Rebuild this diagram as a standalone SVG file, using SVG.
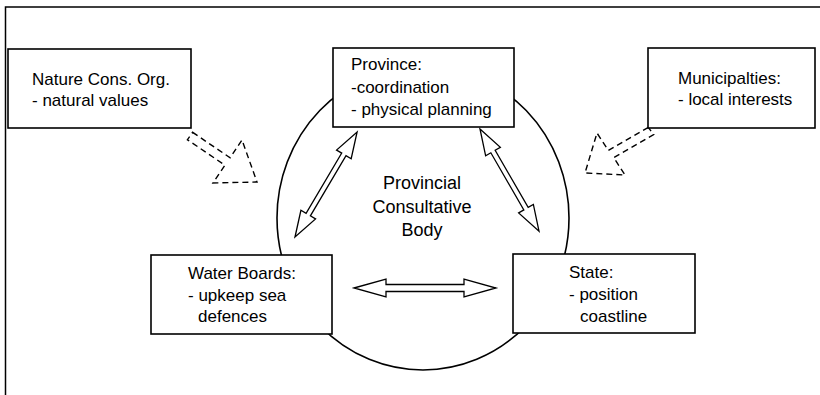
<svg xmlns="http://www.w3.org/2000/svg" width="820" height="395" viewBox="0 0 820 395">
<style>
.box{fill:#fff;stroke:#000;stroke-width:1.6}
.t{font-family:"Liberation Sans",Arial,sans-serif;font-size:17px;fill:#000}
.c{font-family:"Liberation Sans",Arial,sans-serif;font-size:18px;fill:#000;text-anchor:middle}
.dbl{fill:#fff;stroke:#000;stroke-width:1.3;stroke-linejoin:miter}
.dash{fill:none;stroke:#000;stroke-width:1.4;stroke-dasharray:6 4}
</style>
<rect width="820" height="395" fill="#fff"/>
<g id="frame"><polyline points="5.5,395 5.5,7 820,7" fill="none" stroke="#000" stroke-width="1.5"/></g>
<g id="body">
<ellipse cx="423" cy="218" rx="146" ry="152" fill="none" stroke="#000" stroke-width="1.6"/>
<text class="c" x="422" y="189">Provincial</text>
<text class="c" x="422" y="213">Consultative</text>
<text class="c" x="422" y="236">Body</text>
</g>
<g id="connectors">
<path class="dbl" transform="translate(295,237) rotate(-59.4)" d="M0,0 L26,-8.5 L26,-2.5 L96,-2.5 L96,-8.5 L122,0 L96,8.5 L96,2.5 L26,2.5 L26,8.5 Z"/>
<path class="dbl" transform="translate(480,129) rotate(60)" d="M0,0 L26,-8.5 L26,-2.5 L92,-2.5 L92,-8.5 L118,0 L92,8.5 L92,2.5 L26,2.5 L26,8.5 Z"/>
<path class="dbl" transform="translate(354,288)" d="M0,0 L32,-9 L32,-3.5 L110,-3.5 L110,-9 L142,0 L110,9 L110,3.5 L32,3.5 L32,9 Z"/>
<path class="dash" d="M192.6,132.3 L230.1,157.8 L242,140 L257,182 L213,183 L224.9,165.2 L187.4,139.7 Z"/>
<path class="dash" d="M648.3,127.4 L608.3,150.4 L597,133 L585,173 L625,175 L613.7,157.6 L653.7,134.6 Z"/>
</g>
<g id="nature">
<rect class="box" x="8" y="49" width="183" height="79"/>
<text class="t" x="32" y="85">Nature Cons. Org.</text>
<text class="t" x="32" y="106">- natural values</text>
</g>
<g id="province">
<rect class="box" x="333" y="48" width="181" height="79"/>
<text class="t" x="351" y="70">Province:</text>
<text class="t" x="351" y="93">-coordination</text>
<text class="t" x="351" y="115">- physical planning</text>
</g>
<g id="municipalities">
<rect class="box" x="648" y="48" width="167" height="80"/>
<text class="t" x="678" y="84">Municipalties:</text>
<text class="t" x="678" y="105">- local interests</text>
</g>
<g id="waterboards">
<rect class="box" x="151" y="255" width="181" height="79"/>
<text class="t" x="188" y="279">Water Boards:</text>
<text class="t" x="188" y="301">- upkeep sea</text>
<text class="t" x="198" y="322">defences</text>
</g>
<g id="state">
<rect class="box" x="513" y="254" width="182" height="79"/>
<text class="t" x="569" y="278">State:</text>
<text class="t" x="569" y="300">- position</text>
<text class="t" x="580" y="322">coastline</text>
</g>
</svg>
